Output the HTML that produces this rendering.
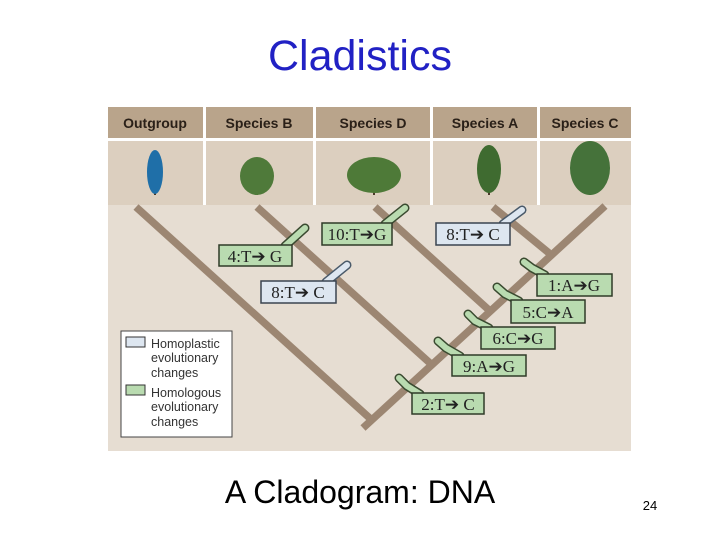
<!DOCTYPE html>
<html><head><meta charset="utf-8"><style>
html,body{margin:0;padding:0;background:#fff;width:720px;height:540px;overflow:hidden}
svg{display:block}
</style></head><body>
<svg width="720" height="540" viewBox="0 0 720 540" xmlns="http://www.w3.org/2000/svg">
<text x="360" y="70" text-anchor="middle" font-family="Liberation Sans, sans-serif" font-size="43" fill="#2121c4">Cladistics</text>
<rect x="108" y="104" width="523" height="347" fill="#e6ddd2"/>
<rect x="108" y="104" width="523" height="101" fill="#fff"/>
<g fill="#b9a48b">
<rect x="108" y="107" width="95" height="31"/><rect x="206" y="107" width="107" height="31"/><rect x="316" y="107" width="114" height="31"/><rect x="433" y="107" width="104" height="31"/><rect x="540" y="107" width="91" height="31"/>
</g>
<g fill="#dccfbf">
<rect x="108" y="141" width="95" height="64"/><rect x="206" y="141" width="107" height="64"/><rect x="316" y="141" width="114" height="64"/><rect x="433" y="141" width="104" height="64"/><rect x="540" y="141" width="91" height="64"/>
</g>
<g font-family="Liberation Sans, sans-serif" font-weight="bold" font-size="14" fill="#2a2018" text-anchor="middle">
<text x="155" y="128">Outgroup</text><text x="259" y="128">Species B</text><text x="373" y="128">Species D</text><text x="485" y="128">Species A</text><text x="585" y="128">Species C</text>
</g>
<g>
<rect x="154" y="185" width="2" height="10" fill="#4a3a2a"/>
<ellipse cx="155" cy="172" rx="8" ry="22" fill="#1f6fa8"/>
<rect x="256" y="183" width="2" height="12" fill="#4a3a2a"/>
<ellipse cx="257" cy="176" rx="17" ry="19" fill="#4f7a3a"/>
<rect x="373" y="183" width="2" height="12" fill="#4a3a2a"/>
<ellipse cx="374" cy="175" rx="27" ry="18" fill="#4e7a38"/>
<rect x="488" y="180" width="2" height="15" fill="#4a3a2a"/>
<ellipse cx="489" cy="169" rx="12" ry="24" fill="#3f6b30"/>
<rect x="589" y="182" width="2" height="13" fill="#4a3a2a"/>
<ellipse cx="590" cy="168" rx="20" ry="27" fill="#45723a"/>
</g>
<g stroke="#9c8672" stroke-width="7.5" fill="none" stroke-linecap="butt">
<line x1="136" y1="207" x2="374" y2="422"/>
<line x1="363" y1="428" x2="605" y2="206"/>
<line x1="257" y1="207" x2="431" y2="364"/>
<line x1="375" y1="207" x2="490" y2="311"/>
<line x1="493" y1="207" x2="549" y2="253"/>
</g>
<g stroke="#3a4a30" stroke-width="9" stroke-linecap="round" stroke-linejoin="round" fill="none">
<line x1="285" y1="246" x2="305" y2="228"/>
<line x1="385" y1="224" x2="405" y2="208"/>
<polyline points="545,275 532,268 524,262"/>
<polyline points="519,301 505,294 497,287"/>
<polyline points="489,328 475,321 468,314"/>
<polyline points="460,356 446,348 438,341"/>
<polyline points="420,394 407,386 399,378"/>
</g>
<g stroke="#4a5a6a" stroke-width="9" stroke-linecap="round" fill="none">
<line x1="326" y1="282" x2="347" y2="265"/>
<line x1="503" y1="224" x2="522" y2="210"/>
</g>
<g stroke="#b9dbb0" stroke-width="6" stroke-linecap="round" stroke-linejoin="round" fill="none">
<line x1="285" y1="246" x2="305" y2="228"/>
<line x1="385" y1="224" x2="405" y2="208"/>
<polyline points="545,275 532,268 524,262"/>
<polyline points="519,301 505,294 497,287"/>
<polyline points="489,328 475,321 468,314"/>
<polyline points="460,356 446,348 438,341"/>
<polyline points="420,394 407,386 399,378"/>
</g>
<g stroke="#dde6f0" stroke-width="6" stroke-linecap="round" fill="none">
<line x1="326" y1="282" x2="347" y2="265"/>
<line x1="503" y1="224" x2="522" y2="210"/>
</g>
<g stroke="#2f3b28" stroke-width="1.5" fill="#b9dbb0">
<rect x="219" y="245" width="73" height="21"/>
<rect x="322" y="223" width="70" height="22"/>
<rect x="537" y="274" width="75" height="22"/>
<rect x="511" y="300" width="74" height="23"/>
<rect x="481" y="327" width="74" height="22"/>
<rect x="452" y="355" width="74" height="21"/>
<rect x="412" y="393" width="72" height="21"/>
</g>
<g stroke="#3a4450" stroke-width="1.5" fill="#dde6f0">
<rect x="261" y="281" width="75" height="22"/>
<rect x="436" y="223" width="74" height="22"/>
</g>
<g font-family="Liberation Serif, serif" font-size="17" fill="#222" text-anchor="middle">
<text x="255" y="262">4:T➔ G</text>
<text x="357" y="240">10:T➔G</text>
<text x="298" y="298">8:T➔ C</text>
<text x="473" y="240">8:T➔ C</text>
<text x="574" y="291">1:A➔G</text>
<text x="548" y="318">5:C➔A</text>
<text x="518" y="344">6:C➔G</text>
<text x="489" y="372">9:A➔G</text>
<text x="448" y="410">2:T➔ C</text>
</g>
<rect x="121" y="331" width="111" height="106" fill="#fff" stroke="#444" stroke-width="1"/>
<rect x="126" y="337" width="19" height="10" fill="#dde6f0" stroke="#333"/>
<rect x="126" y="385" width="19" height="10" fill="#b9dbb0" stroke="#333"/>
<g font-family="Liberation Sans, sans-serif" font-size="12.5" fill="#333">
<text x="151" y="348">Homoplastic</text><text x="151" y="362">evolutionary</text><text x="151" y="377">changes</text>
<text x="151" y="397">Homologous</text><text x="151" y="411">evolutionary</text><text x="151" y="426">changes</text>
</g>
<text x="360" y="503" text-anchor="middle" font-family="Liberation Sans, sans-serif" font-size="32" fill="#000">A Cladogram: DNA</text>
<text x="650" y="510" text-anchor="middle" font-family="Liberation Sans, sans-serif" font-size="13" fill="#000">24</text>
</svg>
</body></html>
